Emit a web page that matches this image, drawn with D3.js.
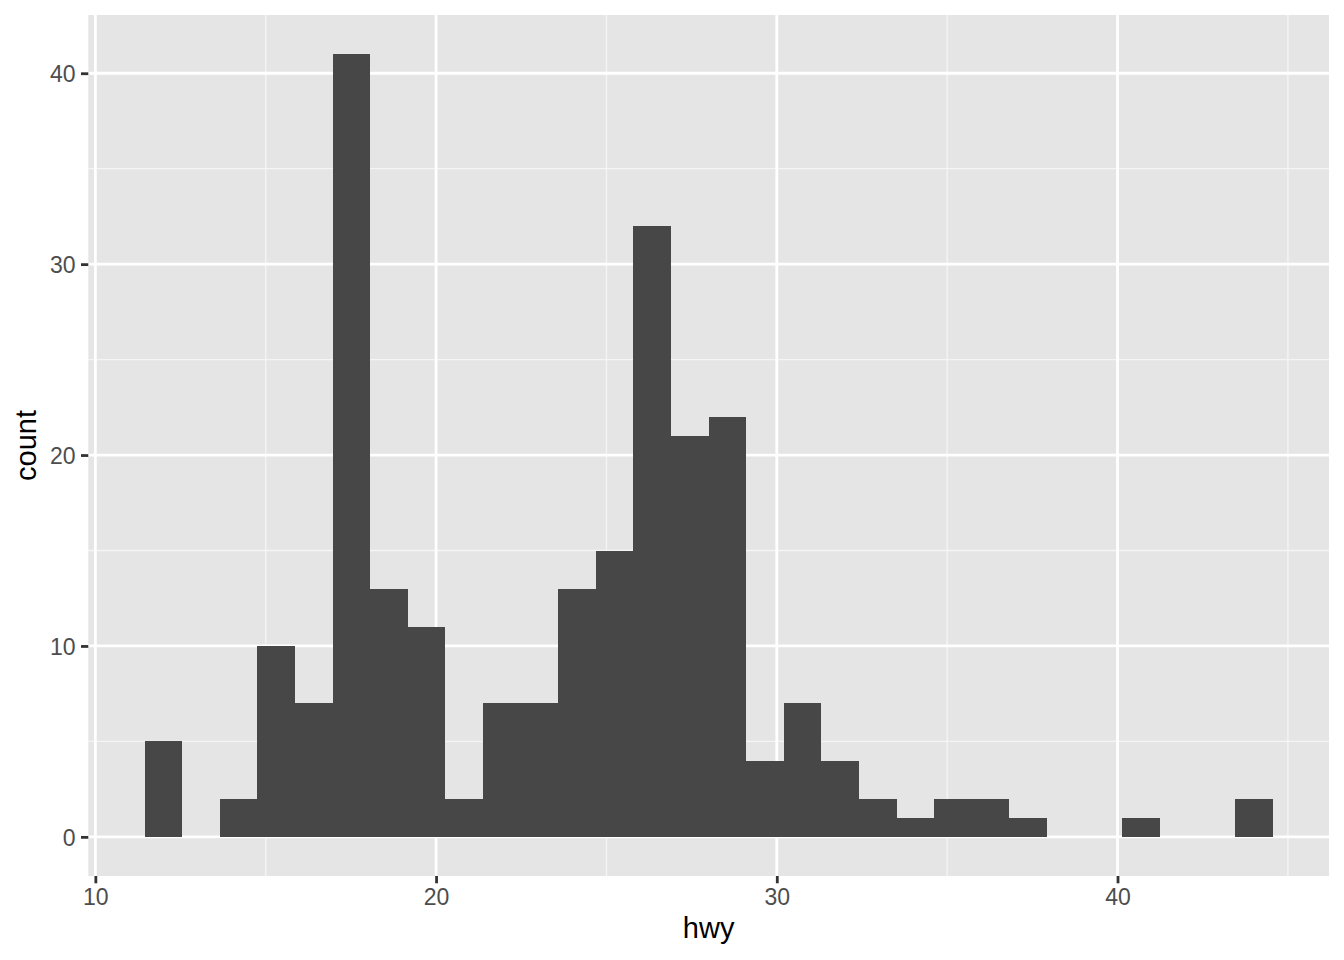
<!DOCTYPE html>
<html>
<head>
<meta charset="utf-8">
<script src="https://cdn.jsdelivr.net/npm/d3@7"></script>
<style>
  html, body { margin: 0; padding: 0; background: #ffffff; }
  svg { display: block; }
</style>
</head>
<body>
<svg id="chart" width="1344" height="960"></svg>
<script>
// ---- data (ggplot2 histogram of hwy, 30 bins, width 32/29, centered on 12) ----
const binCount = 30;
const binMin = 12;          // centre of first bin
const binMaxCenter = 44;    // centre of last bin
const counts = [5, 0, 2, 10, 7, 41, 13, 11, 2, 7, 7, 13, 15, 32, 21, 22, 4, 7, 4, 2, 1, 2, 2, 1, 0, 0, 1, 0, 0, 2];
const xMajorTicks = [10, 20, 30, 40];
const xMinorTicks = [15, 25, 35, 45];
const yMajorTicks = [0, 10, 20, 30, 40];
const yMinorTicks = [5, 15, 25, 35];
const xTitle = "hwy";
const yTitle = "count";

// ---- layout ----
const W = 1344, H = 960;
const panel = { left: 88.3, right: 1329, top: 15, bottom: 876 };
const fontFam = "'Liberation Sans', Arial, Helvetica, sans-serif";

const binWidth = (binMaxCenter - binMin) / (binCount - 1);
const bins = counts.map((c, i) => ({
  x0: binMin - binWidth / 2 + i * binWidth,
  x1: binMin - binWidth / 2 + (i + 1) * binWidth,
  count: c
}));

const xLo = bins[0].x0, xHi = bins[bins.length - 1].x1;
const xPad = (xHi - xLo) * 0.05;
const yMax = d3.max(counts);
const yPad = yMax * 0.05;

const x = d3.scaleLinear().domain([xLo - xPad, xHi + xPad]).range([panel.left, panel.right]);
const y = d3.scaleLinear().domain([0 - yPad, yMax + yPad]).range([panel.bottom, panel.top]);

const svg = d3.select("#chart");

// panel background
svg.append("rect")
  .attr("x", panel.left).attr("y", panel.top)
  .attr("width", panel.right - panel.left).attr("height", panel.bottom - panel.top)
  .attr("fill", "#E5E5E5");

const grid = svg.append("g");
// minor grid
grid.selectAll(".xminor").data(xMinorTicks.filter(v => x(v) <= panel.right)).enter().append("line")
  .attr("x1", d => x(d)).attr("x2", d => x(d))
  .attr("y1", panel.top).attr("y2", panel.bottom)
  .attr("stroke", "#F5F5F5").attr("stroke-width", 1.3);
grid.selectAll(".yminor").data(yMinorTicks).enter().append("line")
  .attr("y1", d => y(d)).attr("y2", d => y(d))
  .attr("x1", panel.left).attr("x2", panel.right)
  .attr("stroke", "#F5F5F5").attr("stroke-width", 1.3);
// major grid
grid.selectAll(".xmajor").data(xMajorTicks).enter().append("line")
  .attr("x1", d => x(d)).attr("x2", d => x(d))
  .attr("y1", panel.top).attr("y2", panel.bottom)
  .attr("stroke", "#FFFFFF").attr("stroke-width", 2.8);
grid.selectAll(".ymajor").data(yMajorTicks).enter().append("line")
  .attr("y1", d => y(d)).attr("y2", d => y(d))
  .attr("x1", panel.left).attr("x2", panel.right)
  .attr("stroke", "#FFFFFF").attr("stroke-width", 2.8);

// bars
svg.append("g").attr("shape-rendering", "crispEdges")
  .selectAll("rect").data(bins.filter(b => b.count > 0)).enter().append("rect")
  .attr("x", d => x(d.x0))
  .attr("width", d => x(d.x1) - x(d.x0))
  .attr("y", d => y(d.count))
  .attr("height", d => y(0) - y(d.count))
  .attr("fill", "#474747");

// axes
const xAxis = d3.axisBottom(x).tickValues(xMajorTicks).tickSize(7.3).tickPadding(5.5).tickFormat(d3.format("d"));
const yAxis = d3.axisLeft(y).tickValues(yMajorTicks).tickSize(7.3).tickPadding(5.5).tickFormat(d3.format("d"));

const gx = svg.append("g").attr("transform", `translate(0,${panel.bottom})`).call(xAxis);
const gy = svg.append("g").attr("transform", `translate(${panel.left},0)`).call(yAxis);
[gx, gy].forEach(g => {
  g.select(".domain").remove();
  g.selectAll(".tick line").attr("stroke", "#333333").attr("stroke-width", 2.8);
  g.selectAll(".tick text").attr("fill", "#4D4D4D")
    .style("font-family", fontFam).style("font-size", "23px");
});
gy.selectAll(".tick text").attr("dy", "0.36em");
gx.selectAll(".tick text").attr("dy", "0.7em");

// axis titles
svg.append("text")
  .attr("x", (panel.left + panel.right) / 2).attr("y", 938)
  .attr("text-anchor", "middle")
  .style("font-family", fontFam).style("font-size", "29px")
  .attr("fill", "#000000")
  .text(xTitle);
svg.append("text")
  .attr("transform", `translate(36,${(panel.top + panel.bottom) / 2}) rotate(-90)`)
  .attr("text-anchor", "middle")
  .style("font-family", fontFam).style("font-size", "29px")
  .attr("fill", "#000000")
  .text(yTitle);
</script>
</body>
</html>
